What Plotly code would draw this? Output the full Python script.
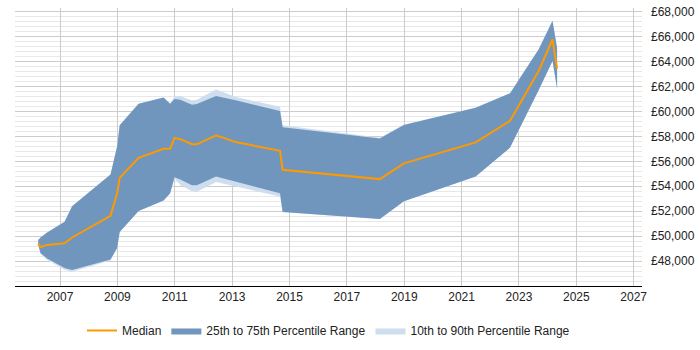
import plotly.graph_objects as go

# Decimal years of data points
years = [2006.24, 2006.32, 2006.55, 2007.16, 2007.42, 2008.76, 2008.99, 2009.08,
         2009.74, 2010.61, 2010.84, 2010.99, 2011.19, 2011.60, 2011.77, 2012.44,
         2013.16, 2014.67, 2014.76, 2018.15, 2018.99, 2021.49, 2022.69, 2023.69,
         2024.17, 2024.33]

median = [49427, 49120, 49296, 49427, 49894, 51624, 53433, 54675,
          56281, 57003, 57003, 57887, 57779, 57367, 57367, 58089,
          57523, 56848, 55326, 54574, 55839, 57523, 59253, 63266,
          65773, 63444]

p75 = [49684, 49900, 50300, 51159, 52399, 54938, 57189, 58900,
       60627, 61116, 60627, 60992, 60938, 60549, 60603, 61248,
       60883, 60030, 58741, 57833, 58920, 60293, 61457, 64997,
       67275, 65074]

p25 = [49296, 48653, 48200, 47434, 47278, 48132, 49040, 50329,
       52012, 52866, 53433, 54729, 54550, 54085, 54085, 54783,
       54341, 53433, 51935, 51368, 52789, 54783, 57100, 61714,
       64042, 61846]

p90 = [49684, 49900, 50300, 51159, 52399, 54938, 57189, 58900,
       60627, 61116, 60627, 61194, 61250, 60883, 60950, 61768,
       61150, 60371, 58900, 57900, 58950, 60293, 61457, 64997,
       67275, 65074]

p10 = [49296, 48550, 48100, 47300, 47146, 48050, 49040, 50329,
       52012, 52866, 53433, 54650, 54100, 53600, 53565, 54341,
       53950, 53176, 51935, 51368, 52789, 54783, 57100, 61714,
       64042, 61846]

x_ticks = [2007, 2009, 2011, 2013, 2015, 2017, 2019, 2021, 2023, 2025, 2027]
y_ticks = [48000, 50000, 52000, 54000, 56000, 58000, 60000, 62000, 64000, 66000, 68000]

fig = go.Figure()

fig.add_trace(go.Scatter(
    x=years + years[::-1], y=p90 + p10[::-1],
    fill="toself", fillcolor="rgb(206,222,238)", line=dict(width=0),
    mode="lines", name="10th to 90th Percentile Range", legendrank=3,
    hoverinfo="skip"))

fig.add_trace(go.Scatter(
    x=years + years[::-1], y=p75 + p25[::-1],
    fill="toself", fillcolor="rgb(112,150,190)", line=dict(width=0),
    mode="lines", name="25th to 75th Percentile Range", legendrank=2,
    hoverinfo="skip"))

fig.add_trace(go.Scatter(
    x=years, y=median, mode="lines", name="Median",
    line=dict(color="rgb(255,153,0)", width=2), legendrank=1))

fig.update_layout(
    width=700, height=350,
    margin=dict(l=15, r=57, t=5, b=58),
    paper_bgcolor="white", plot_bgcolor="white",
    font=dict(family="Liberation Sans, Arial, sans-serif", size=12, color="#222"),
    showlegend=True,
    legend=dict(orientation="h", x=0.5, xanchor="center", y=-0.16, yanchor="middle",
                font=dict(size=12, color="#222"), traceorder="normal", itemwidth=30),
    xaxis=dict(range=[2005.43, 2027.29], tickvals=x_ticks,
               ticktext=[str(v) for v in x_ticks],
               showgrid=True, gridcolor="#cccccc", gridwidth=1,
               showline=True, linecolor="#000", linewidth=1,
               zeroline=False, ticks=""),
    yaxis=dict(range=[46000, 68300], side="right", tickvals=y_ticks,
               ticktext=["£{:,}".format(v) for v in y_ticks],
               showgrid=True, gridcolor="#cccccc", gridwidth=1,
               zeroline=False, showline=False, ticks="", ticklabelstandoff=8,
               minor=dict(dtick=400, tick0=0, showgrid=True, gridcolor="#e8e8e8", gridwidth=1)),
)

fig.write_html("out.html")
